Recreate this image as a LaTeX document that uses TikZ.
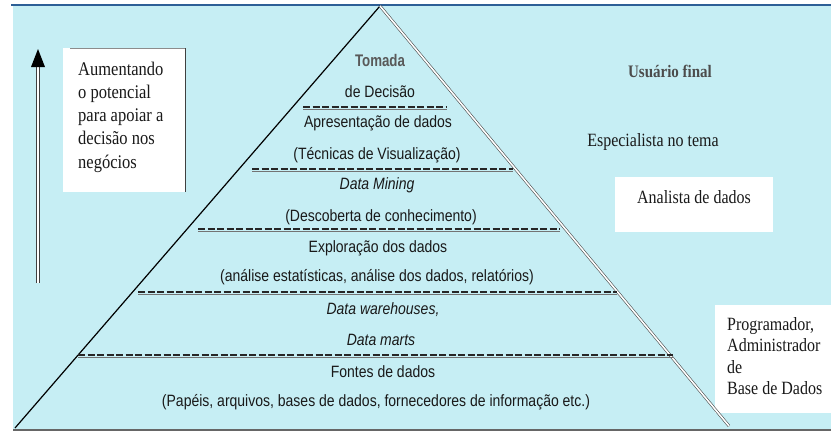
\documentclass[tikz,border=0pt]{standalone}
\usepackage{graphicx}
\usepackage{fontspec}
\setmainfont{Liberation Serif}
\setsansfont{Liberation Sans}
\definecolor{bgcyan}{RGB}{198,238,244}
\definecolor{topblue}{RGB}{45,95,150}
\definecolor{inkgray}{RGB}{25,25,25}
\newcommand{\vs}[1]{\scalebox{1}[1.17]{#1}}
\begin{document}
\begin{tikzpicture}[x=1pt,y=-1pt,
  pyr/.style={font=\sffamily\fontsize{14}{16}\selectfont, text=inkgray, inner sep=0pt},
  pyri/.style={pyr, font=\sffamily\itshape\fontsize{14}{16}\selectfont},
  lbl/.style={font=\fontsize{16}{21}\selectfont, text=inkgray, inner sep=0pt},
  sepdash/.style={black!85, line width=1.6pt, dash pattern=on 7pt off 2.5pt},
  septhin/.style={black!55, line width=0.5pt},
  whitebox/.style={fill=white, draw=none}]
\useasboundingbox (0,0) rectangle (831,432);
% background
\fill[white] (0,0) rectangle (831,432);
\fill[bgcyan] (13,6) rectangle (831,429);
\draw[topblue, line width=2pt] (11,5) -- (831,5);
\draw[black!60, line width=2pt] (13,430) -- (831,430);
% white label boxes
\fill[whitebox] (63,48) rectangle (185,192);
\draw[black!45, line width=0.8pt] (70,48) -- (185,48);
\draw[black!75, line width=1pt] (185,48) -- (185,192);
\fill[whitebox] (615,177) rectangle (773,232);
\fill[whitebox] (715,305) rectangle (831,413);
% pyramid
\coordinate (apex) at (380,6);
\coordinate (bl) at (15,428);
\coordinate (br) at (729,426);
\draw[black, line width=1.2pt] (apex) -- (bl);
\draw[black!70, line width=0.6pt, double=white, double distance=1.6pt] (apex) -- (br);
% separators
\foreach \xa/\xb/\yy in {303/447/107, 252/513/169, 198/560/229, 138/617/292, 78/673/355}{
  \draw[sepdash] (\xa,\yy) -- (\xb,\yy);
  \draw[septhin] (\xa,\yy+2.2) -- (\xb,\yy+2.2);
}
% pyramid texts
\node[pyr, font=\sffamily\bfseries\fontsize{14}{16}\selectfont, text=black!65] (t1) at (380,60) {\scalebox{0.95}[1.2]{Tomada}};
\node[pyr] (t2) at (380,92) {\vs{de Decisão}};
\node[pyr] (t3) at (378,123) {\vs{Apresentação de dados}};
\node[pyr] (t4) at (377,155) {\vs{(Técnicas de Visualização)}};
\node[pyri] (t5) at (377,185) {\vs{Data Mining}};
\node[pyr] (t6) at (381,217) {\vs{(Descoberta de conhecimento)}};
\node[pyr] (t7) at (378,248) {\vs{Exploração dos dados}};
\node[pyr] (t8) at (377,277) {\vs{(análise estatísticas, análise dos dados, relatórios)}};
\node[pyri] (t9) at (383,310) {\vs{Data warehouses,}};
\node[pyri] (t10) at (381,340) {\vs{Data marts}};
\node[pyr] (t11) at (383,372) {\vs{Fontes de dados}};
\node[pyr] (t12) at (376,402) {\vs{(Papéis, arquivos, bases de dados, fornecedores de informação etc.)}};
% arrow
\coordinate (arrbot) at (38,283);
\coordinate (arrtop) at (38,64);
\draw[black!75, line width=0.7pt, double=white, double distance=1.8pt] (arrbot) -- (arrtop);
\fill[black] (38,49) -- (45,67) -- (31,67) -- cycle;
% left label
\node[lbl, anchor=west, align=left, font=\fontsize{16.5}{23.3}\selectfont] (inc) at (78,117)
  {\vs{Aumentando}\\\vs{o potencial}\\\vs{para apoiar a}\\\vs{decisão nos}\\\vs{negócios}};
% right labels
\node[lbl, font=\bfseries\fontsize{15}{18}\selectfont, text=black!70] (uf) at (670,71) {\vs{Usuário final}};
\node[lbl] (esp) at (653,142) {\vs{Especialista no tema}};
\node[lbl] (ana) at (694,197) {\vs{Analista de dados}};
\node[lbl, anchor=west, align=left, font=\fontsize{16}{21.3}\selectfont] (prog) at (727,356)
  {\vs{Programador,}\\\vs{Administrador}\\\vs{de}\\\vs{Base de Dados}};
\end{tikzpicture}
\end{document}
